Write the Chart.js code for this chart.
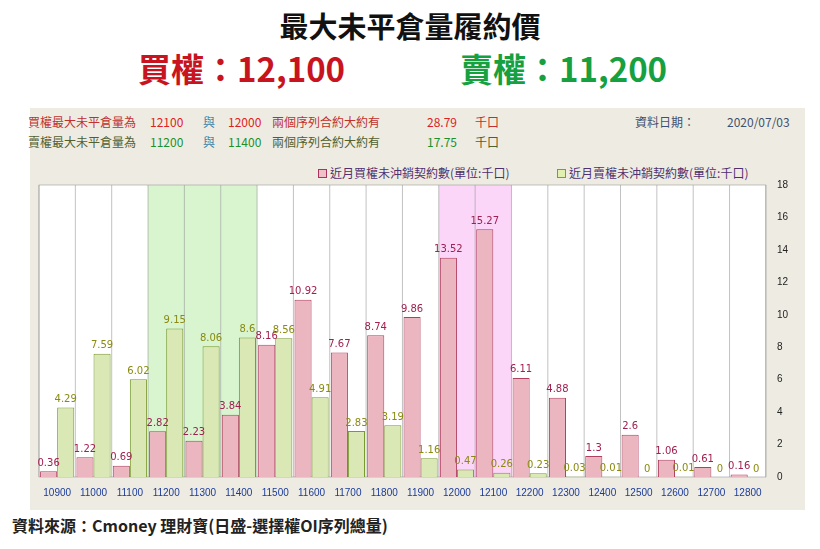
<!DOCTYPE html>
<html><head><meta charset="utf-8">
<script src="https://cdn.jsdelivr.net/npm/chart.js@4"></script>
<style>
body{margin:0;width:820px;height:549px;background:#fff;font-family:"Noto Sans CJK TC","Noto Sans",sans-serif;position:relative;overflow:hidden}
.t{position:absolute;white-space:nowrap}
#panel{position:absolute;left:30px;top:108px;width:775px;height:402px;background:#eeece2}
#wrap{position:absolute;left:30px;top:161px;width:775px;height:340px}
.s{font-size:12px}
</style></head><body>
<div class="t" style="left:0;width:820px;text-align:center;top:4px;font-size:29px;font-weight:bold;color:#111">最大未平倉量履約價</div>
<div class="t" style="left:138px;top:44px;font-size:33px;font-weight:bold;color:#c8141e">買權：12,100</div>
<div class="t" style="left:460px;top:44px;font-size:33px;font-weight:bold;color:#16a040">賣權：11,200</div>
<div id="panel"></div>
<div class="t s" style="left:28px;top:113px;color:#c03030">買權最大未平倉量為</div>
<div class="t s" style="left:150px;top:113px;color:#e02020">12100</div>
<div class="t s" style="left:203px;top:113px;color:#4080a0">與</div>
<div class="t s" style="left:228px;top:113px;color:#e02020">12000</div>
<div class="t s" style="left:272px;top:113px;color:#c03030">兩個序列合約大約有</div>
<div class="t s" style="left:427px;top:113px;color:#e02020">28.79</div>
<div class="t s" style="left:475px;top:113px;color:#c03030">千口</div>
<div class="t s" style="left:635px;top:113px;color:#405070">資料日期：</div>
<div class="t s" style="left:727px;top:113px;color:#405070">2020/07/03</div>
<div class="t s" style="left:28px;top:133px;color:#506030">賣權最大未平倉量為</div>
<div class="t s" style="left:150px;top:133px;color:#20902a">11200</div>
<div class="t s" style="left:203px;top:133px;color:#4080a0">與</div>
<div class="t s" style="left:228px;top:133px;color:#20902a">11400</div>
<div class="t s" style="left:272px;top:133px;color:#506030">兩個序列合約大約有</div>
<div class="t s" style="left:427px;top:133px;color:#20902a">17.75</div>
<div class="t s" style="left:475px;top:133px;color:#506030">千口</div>
<div class="t s" style="left:318px;top:164px;color:#503070"><span style="display:inline-block;width:7px;height:7px;border:1px solid #b03060;background:#f0c0c8;margin-right:3px"></span>近月買權未沖銷契約數(單位:千口)</div>
<div class="t s" style="left:557px;top:164px;color:#503070"><span style="display:inline-block;width:7px;height:7px;border:1px solid #8a9a20;background:#e0f0b0;margin-right:3px"></span>近月賣權未沖銷契約數(單位:千口)</div>
<div id="wrap"><canvas id="c" width="775" height="340"></canvas></div>
<div class="t" style="left:12px;top:513px;font-size:16px;font-weight:bold;color:#222">資料來源：Cmoney 理財寶(日盛-選擇權OI序列總量)</div>
<script>
const categories=['10900','11000','11100','11200','11300','11400','11500','11600','11700','11800','11900','12000','12100','12200','12300','12400','12500','12600','12700','12800'];
const callOI=[0.36,1.22,0.69,2.82,2.23,3.84,8.16,10.92,7.67,8.74,9.86,13.52,15.27,6.11,4.88,1.3,2.6,1.06,0.61,0.16];
const putOI=[4.29,7.59,6.02,9.15,8.06,8.6,8.56,4.91,2.83,3.19,1.16,0.47,0.26,0.23,0.03,0.01,0,0.01,0,0];
const greenBand=['11200','11400'], pinkBand=['12000','12100'];
const bands={id:'bands',beforeDatasetsDraw(ch){const{ctx,chartArea:a,scales:{x}}=ch;const w=x.getPixelForValue(1)-x.getPixelForValue(0);
 ctx.save();ctx.fillStyle='#fff';ctx.fillRect(a.left,a.top,a.width,a.height);
 [[greenBand,'#d8f5d0'],[pinkBand,'#fbd6f8']].forEach(([b,c])=>{const i0=categories.indexOf(b[0]),i1=categories.indexOf(b[1]);ctx.fillStyle=c;ctx.fillRect(x.getPixelForValue(i0)-w/2,a.top,(i1-i0+1)*w,a.height);});
 ctx.strokeStyle='#999';ctx.lineWidth=0.6;for(let i=0;i<=categories.length;i++){const px=x.getPixelForValue(0)-w/2+i*w;ctx.beginPath();ctx.moveTo(px,a.top);ctx.lineTo(px,a.bottom);ctx.stroke();}
 ctx.strokeRect(a.left,a.top,a.width,a.height);ctx.restore();}};
const labels={id:'labels',afterDatasetsDraw(ch){const ctx=ch.ctx;ctx.save();ctx.font='10px "DejaVu Sans",sans-serif';ctx.textAlign='center';ctx.textBaseline='bottom';
 ch.data.datasets.forEach((d,di)=>{ch.getDatasetMeta(di).data.forEach((b,i)=>{ctx.fillStyle=di==0?'#a02050':'#8a8a10';ctx.fillText(String(d.data[i]),b.x,b.y-3);});});ctx.restore();}};
new Chart(document.getElementById('c'),{type:'bar',data:{labels:categories,datasets:[
 {data:callOI,backgroundColor:'#ebb6bf',borderColor:'#b04060',borderWidth:1,barPercentage:1,categoryPercentage:0.94},
 {data:putOI,backgroundColor:'#d9e8b4',borderColor:'#7a9a30',borderWidth:1,barPercentage:1,categoryPercentage:0.94}]},
 options:{responsive:false,animation:false,maintainAspectRatio:false,layout:{padding:{left:9,top:24,right:14,bottom:0}},
 plugins:{legend:{display:false},tooltip:{enabled:false}},
 scales:{x:{grid:{display:false},border:{display:false},ticks:{color:'#1a3a9a',font:{size:10},maxRotation:0,autoSkip:false,padding:2}},
  y:{position:'right',min:0,max:18,ticks:{stepSize:2,color:'#222',font:{size:10}},grid:{display:false},border:{display:false}}}},
 plugins:[bands,labels]});
</script>
</body></html>
